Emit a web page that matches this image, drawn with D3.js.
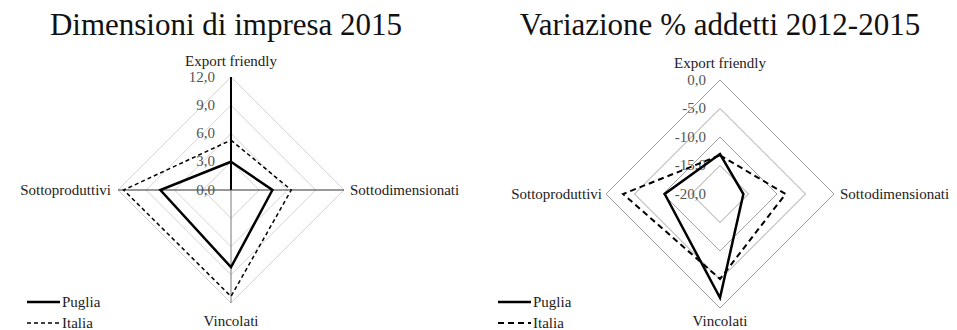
<!DOCTYPE html>
<html>
<head>
<meta charset="utf-8">
<script src="https://cdn.jsdelivr.net/npm/d3@7"></script>
<style>
  body { margin: 0; background: #fff; }
</style>
</head>
<body>
<div id="chart"></div>
<script>
const axes = ['Export friendly', 'Sottodimensionati', 'Vincolati', 'Sottoproduttivi'];
const series = ['Puglia', 'Italia'];

// Dimensioni di impresa 2015
const dimPuglia = [3.0, 4.4, 8.2, 7.5];
const dimItalia = [5.3, 6.4, 11.3, 11.4];
const dimTicks = [0, 3, 6, 9, 12];

// Variazione % addetti 2012-2015
const varPuglia = [-13.0, -15.9, -1.8, -10.3];
const varItalia = [-13.2, -8.5, -5.1, -3.0];
const varTicks = [-20, -15, -10, -5, 0];

const FONT = "'Liberation Serif'";
const fmt = v => d3.format('.1f')(v).replace('.', ',').replace('−', '-');

const svg = d3.select('#chart').append('svg')
  .attr('width', 957)
  .attr('height', 330);

function drawRadar(opts) {
  const { cx, cy, radius, domain, ticks, data, title, gridColor, spokes, dashes } = opts;
  const g = svg.append('g').attr('transform', `translate(${cx}, ${cy})`);

  const rScale = d3.scaleLinear().domain(domain).range([0, radius]);
  const angle = i => i * Math.PI / 2 - Math.PI / 2;
  const point = (v, i) => [Math.cos(angle(i)) * rScale(v), Math.sin(angle(i)) * rScale(v)];
  const line = d3.line().curve(d3.curveLinearClosed);

  // grid diamonds
  g.selectAll('.grid')
    .data(ticks.filter(t => t !== domain[0]))
    .enter()
    .append('path')
    .attr('class', 'grid')
    .attr('d', t => line(axes.map((a, i) => point(t, i))))
    .attr('fill', 'none')
    .attr('stroke', gridColor)
    .attr('stroke-width', 1);

  // spokes
  if (spokes) {
    spokes.forEach((s, i) => {
      const [x, y] = point(domain[1], i);
      g.append('line')
        .attr('x1', 0).attr('y1', 0)
        .attr('x2', x).attr('y2', y)
        .attr('stroke', s.color)
        .attr('stroke-width', s.width);
    });
  }

  // tick labels
  g.selectAll('.tick-label')
    .data(ticks)
    .enter()
    .append('text')
    .attr('class', 'tick-label')
    .attr('x', -opts.tickGap)
    .attr('y', t => -rScale(t))
    .attr('dy', '0.3em')
    .attr('text-anchor', 'end')
    .style('font-family', FONT)
    .style('font-size', '15px')
    .style('fill', '#555')
    .text(fmt);

  // series
  data.forEach((values, k) => {
    g.append('path')
      .attr('d', line(values.map((v, i) => point(v, i))))
      .attr('fill', 'none')
      .attr('stroke', '#000')
      .attr('stroke-width', dashes[k].width)
      .attr('stroke-dasharray', dashes[k].dash)
      .attr('stroke-linejoin', 'miter');
  });

  // category labels
  const labelPos = [
    { x: 0, y: opts.topLabelY - cy, anchor: 'middle' },
    { x: radius + 6, y: 0, anchor: 'start' },
    { x: 0, y: 326 - cy, anchor: 'middle', base: true },
    { x: -radius - opts.leftGap, y: 0, anchor: 'end' }
  ];
  axes.forEach((a, i) => {
    g.append('text')
      .attr('x', labelPos[i].x)
      .attr('y', labelPos[i].y)
      .attr('dy', labelPos[i].base ? 0 : '0.32em')
      .attr('text-anchor', labelPos[i].anchor)
      .style('font-family', FONT)
      .style('font-size', '15px')
      .style('fill', '#222')
      .text(a);
  });

  // title
  svg.append('text')
    .attr('x', opts.titleX)
    .attr('y', 35)
    .attr('text-anchor', 'middle')
    .style('font-family', FONT)
    .style('font-size', '31px')
    .style('fill', '#111')
    .text(title);

  // legend
  const leg = svg.append('g').attr('transform', `translate(${opts.legendX}, 302)`);
  series.forEach((s, k) => {
    leg.append('line')
      .attr('x1', 0).attr('x2', 33)
      .attr('y1', k * 21).attr('y2', k * 21)
      .attr('stroke', '#000')
      .attr('stroke-width', dashes[k].width)
      .attr('stroke-dasharray', dashes[k].dash);
    leg.append('text')
      .attr('x', 35)
      .attr('y', k * 21)
      .attr('dy', '0.3em')
      .style('font-family', FONT)
      .style('font-size', '15px')
      .style('fill', '#222')
      .text(s);
  });
}

drawRadar({
  cx: 231, cy: 190, radius: 113,
  domain: [0, 12], ticks: dimTicks,
  data: [dimPuglia, dimItalia],
  title: 'Dimensioni di impresa 2015', titleX: 226,
  gridColor: '#d4d4d4', tickGap: 16, topLabelY: 61, leftGap: 7,
  spokes: [
    { color: '#000', width: 2 },
    { color: '#333', width: 1.2 },
    { color: '#777', width: 1 },
    { color: '#333', width: 1.2 }
  ],
  dashes: [{ width: 2.5, dash: null }, { width: 1.5, dash: '4,3' }],
  legendX: 27
});

drawRadar({
  cx: 720, cy: 194, radius: 114,
  domain: [-20, 0], ticks: varTicks,
  data: [varPuglia, varItalia],
  title: 'Variazione % addetti 2012-2015', titleX: 720,
  gridColor: '#a0a0a0', tickGap: 14, topLabelY: 63, leftGap: 4,
  spokes: null,
  dashes: [{ width: 2.5, dash: null }, { width: 2, dash: '6,4' }],
  legendX: 498
});
</script>
</body>
</html>
